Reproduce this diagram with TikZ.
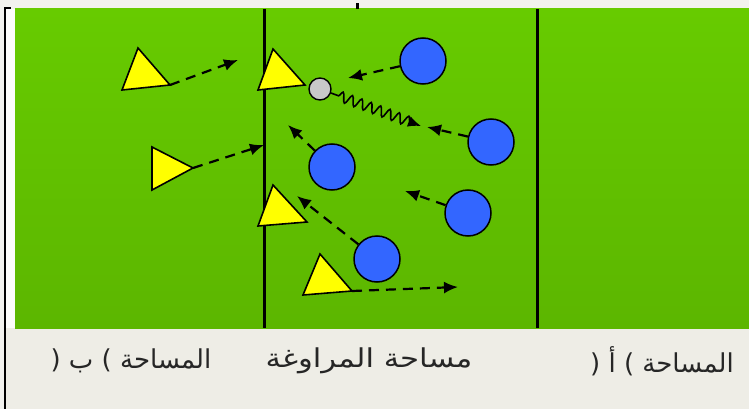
\documentclass[tikz,border=0pt]{standalone}
\usepackage{fontspec}
\TeXXeTstate=1
\newfontfamily\arabicfont[Script=Arabic]{DejaVu Sans}
\usetikzlibrary{arrows.meta,decorations.pathmorphing}
\definecolor{fieldtop}{HTML}{67CB00}
\definecolor{fieldbot}{HTML}{5CB600}
\definecolor{paper}{HTML}{EEEDE6}
\definecolor{topstrip}{HTML}{F2F2EE}
\definecolor{playerA}{HTML}{3366FF}
\definecolor{playerB}{HTML}{FFFF00}
\definecolor{ballgray}{HTML}{C8C8C8}
\tikzset{
  bluep/.style={circle,draw=black,line width=1.5pt,fill=playerA,minimum size=46pt,inner sep=0pt},
  ballnode/.style={circle,draw=black,line width=1.4pt,fill=ballgray,minimum size=22pt,inner sep=0pt},
  yellowp/.style={draw=black,line width=1.6pt,fill=playerB,line join=miter},
  runarrow/.style={line width=2.2pt,dash pattern=on 10pt off 7pt,-{Latex[length=14pt,width=12pt]}},
  fieldline/.style={line width=3pt},
  arlabel/.style={font=\arabicfont\fontsize{26pt}{30pt}\selectfont,inner sep=0pt,text=black!85}
}
\begin{document}
\begin{tikzpicture}[x=1pt,y=-1pt]
\useasboundingbox (0,0) rectangle (749,409);
% backgrounds
\fill[topstrip] (0,0) rectangle (749,409);
\fill[paper] (6,328) rectangle (749,409);
\shade[top color=fieldtop,bottom color=fieldbot] (15,9) rectangle (749,328);
\fill[white!85!paper] (6,9) rectangle (15,328);
% frame marks
\draw[line width=2.5pt] (5,409) -- (5,8) -- (11,8);
\fill (356,3) rectangle (358.5,9);
% field lines
\draw[fieldline] (264,9) -- (264,328);
\draw[fieldline] (537,9) -- (537,328);
% yellow players (triangles)
\draw[yellowp] (122,90) -- (138,48) -- (170,85) -- cycle;
\coordinate (t1) at (170,85);
\draw[yellowp] (152,147) -- (152,190) -- (193,168) -- cycle;
\coordinate (t2) at (193,168);
\draw[yellowp] (258,90) -- (273,49) -- (305,85) -- cycle;
\draw[yellowp] (258,226) -- (273,185) -- (307,222) -- cycle;
\draw[yellowp] (303,295) -- (320,254) -- (352,291) -- cycle;
\coordinate (t5) at (352,291);
% blue players
\node[bluep] (b1) at (423,61) {};
\node[bluep] (b2) at (491,142) {};
\node[bluep] (b3) at (332,167) {};
\node[bluep] (b4) at (468,213) {};
\node[bluep] (b5) at (377,259) {};
% ball
\node[ballnode] (ball) at (320,89) {};
% arrow ends
\coordinate (e1) at (238,60);
\coordinate (e2) at (264,145);
\coordinate (e3) at (348,78);
\coordinate (e4) at (427,127);
\coordinate (e5) at (288,125);
\coordinate (e6) at (405,191);
\coordinate (e7) at (297,196);
\coordinate (e8) at (458,287);
\coordinate (w1) at (421,126);
% arrows
\draw[runarrow] (t1) -- (e1);
\draw[runarrow] (t2) -- (e2);
\draw[runarrow] (b1) -- (e3);
\draw[runarrow] (b2) -- (e4);
\draw[runarrow] (b3) -- (e5);
\draw[runarrow] (b4) -- (e6);
\draw[runarrow] (b5) -- (e7);
\draw[runarrow] (t5) -- (e8);
\draw[line width=1.6pt,-{Latex[length=13pt,width=11pt]},decorate,
  decoration={snake,amplitude=5pt,segment length=10pt,pre length=8pt,post length=8pt}]
  (ball) -- (w1);
% labels
\node[arlabel] (la) at (131,361) {\beginR المساحة ) ب (\endR};
\node[arlabel,xscale=1.18] (lm) at (369,361) {\beginR مساحة المراوغة\endR};
\node[arlabel] (lb) at (662,361) {\beginR المساحة ) أ (\endR};
\end{tikzpicture}
\end{document}
